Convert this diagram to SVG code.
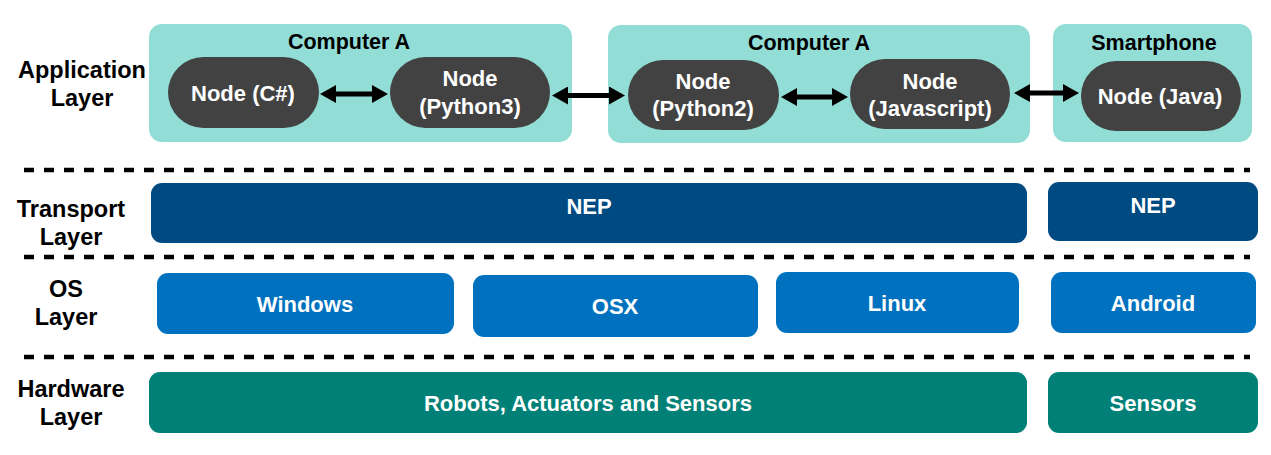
<svg xmlns="http://www.w3.org/2000/svg" width="1271" height="455" viewBox="0 0 1271 455">
<defs>
<style>
.lbl{font-family:"Liberation Sans",Arial,sans-serif;font-weight:bold;font-size:23.5px;fill:#000;text-anchor:middle}
.ttl{font-family:"Liberation Sans",Arial,sans-serif;font-weight:bold;font-size:21.5px;fill:#000;text-anchor:middle}
.wt{font-family:"Liberation Sans",Arial,sans-serif;font-weight:bold;font-size:22px;fill:#fff;text-anchor:middle}
.cont{fill:#92ddd6}
.node{fill:#424242}
.tr{fill:#004a82}
.os{fill:#0071be}
.hw{fill:#008076}
.dash{stroke:#000;stroke-width:4.5;stroke-dasharray:10 10;fill:none}
.conn{stroke:#000;stroke-width:5;fill:none;marker-start:url(#ah);marker-end:url(#ah)}
</style>
<marker id="ah" markerUnits="userSpaceOnUse" markerWidth="16" markerHeight="18" viewBox="0 0 16 18" refX="2" refY="9" orient="auto-start-reverse">
<path d="M0,0 L16,9 L0,18 z" fill="#000"/>
</marker>
</defs>
<rect width="1271" height="455" fill="#fff"/>

<g id="layer-labels">
<text class="lbl" x="82" y="78">Application</text>
<text class="lbl" x="82" y="106">Layer</text>
<text class="lbl" x="71" y="217">Transport</text>
<text class="lbl" x="71" y="245">Layer</text>
<text class="lbl" x="66" y="297">OS</text>
<text class="lbl" x="66" y="325">Layer</text>
<text class="lbl" x="71" y="397">Hardware</text>
<text class="lbl" x="71" y="425">Layer</text>
</g>

<g id="separators">
<line class="dash" x1="24" y1="170" x2="1250" y2="170"/>
<line class="dash" x1="24" y1="257" x2="1250" y2="257"/>
<line class="dash" x1="24" y1="357" x2="1250" y2="357"/>
</g>

<g id="computer-a-1">
<rect class="cont" x="149" y="24" width="423" height="118" rx="13"/>
<text class="ttl" x="349" y="49">Computer A</text>
</g>
<g id="computer-a-2">
<rect class="cont" x="608" y="25" width="422" height="118" rx="13"/>
<text class="ttl" x="809" y="50">Computer A</text>
</g>
<g id="smartphone">
<rect class="cont" x="1053" y="24" width="199" height="118" rx="13"/>
<text class="ttl" x="1154" y="50">Smartphone</text>
</g>

<g id="node-csharp">
<rect class="node" x="168" y="57" width="151" height="71" rx="35.5"/>
<text class="wt" x="243" y="101">Node (C#)</text>
</g>
<g id="node-python3">
<rect class="node" x="390" y="57" width="160" height="71" rx="35.5"/>
<text class="wt" x="470" y="86">Node</text>
<text class="wt" x="470" y="114">(Python3)</text>
</g>
<g id="node-python2">
<rect class="node" x="628" y="60" width="151" height="70" rx="35"/>
<text class="wt" x="703" y="89">Node</text>
<text class="wt" x="703" y="116">(Python2)</text>
</g>
<g id="node-javascript">
<rect class="node" x="850" y="59" width="160" height="70" rx="35"/>
<text class="wt" x="930" y="89">Node</text>
<text class="wt" x="930" y="116">(Javascript)</text>
</g>
<g id="node-java">
<rect class="node" x="1081" y="61" width="160" height="70" rx="35"/>
<text class="wt" x="1160" y="104">Node (Java)</text>
</g>

<g id="connectors">
<line class="conn" x1="334" y1="94" x2="374" y2="94"/>
<line class="conn" x1="566" y1="95.5" x2="611" y2="95.5"/>
<line class="conn" x1="795" y1="97" x2="834" y2="97"/>
<line class="conn" x1="1028" y1="93" x2="1065" y2="93"/>
</g>

<g id="nep-main">
<rect class="tr" x="151" y="183" width="876" height="60" rx="11"/>
<text class="wt" x="589" y="214">NEP</text>
</g>
<g id="nep-phone">
<rect class="tr" x="1048" y="182" width="210" height="59" rx="11"/>
<text class="wt" x="1153" y="213">NEP</text>
</g>

<g id="os-windows">
<rect class="os" x="157" y="273" width="297" height="61" rx="11"/>
<text class="wt" x="305" y="312">Windows</text>
</g>
<g id="os-osx">
<rect class="os" x="473" y="275" width="285" height="62" rx="11"/>
<text class="wt" x="615" y="314">OSX</text>
</g>
<g id="os-linux">
<rect class="os" x="776" y="272" width="243" height="61" rx="11"/>
<text class="wt" x="897" y="311">Linux</text>
</g>
<g id="os-android">
<rect class="os" x="1051" y="272" width="205" height="61" rx="11"/>
<text class="wt" x="1153" y="311">Android</text>
</g>

<g id="hw-robots">
<rect class="hw" x="149" y="372" width="878" height="61" rx="11"/>
<text class="wt" x="588" y="411">Robots, Actuators and Sensors</text>
</g>
<g id="hw-sensors">
<rect class="hw" x="1048" y="372" width="210" height="61" rx="11"/>
<text class="wt" x="1153" y="411">Sensors</text>
</g>
</svg>
